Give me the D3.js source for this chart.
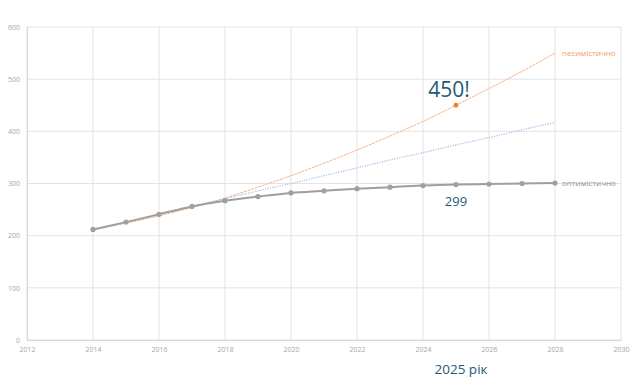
<!DOCTYPE html>
<html>
<head>
<meta charset="utf-8">
<script src="https://cdn.jsdelivr.net/npm/d3@7/dist/d3.min.js"></script>
<style>
  body{margin:0;background:#fff;}
  svg text{font-family:"Open Sans","Noto Sans",sans-serif;}
</style>
</head>
<body>
<svg id="chart" width="640" height="389"></svg>
<script>
'use strict';

var xTicks=[2012,2014,2016,2018,2020,2022,2024,2026,2028,2030];
var yTicks=[0,100,200,300,400,500,600];

var years=[2014,2015,2016,2017,2018,2019,2020,2021,2022,2023,2024,2025,2026,2027,2028];
var optimistic=[212,226,241,256,267,275,282,286,290,293,296,298,299,300,301];
var pessimistic=[211,224,238,254,272,293,315,339,364,391,419,450,482,515,550];
var trendYears=[2017,2018,2019,2020,2021,2022,2023,2024,2025,2026,2027,2028];
var trend=[256,271,286,300,315,330,345,359,374,388,403,417];

var svg=d3.select('#chart')
  , x=d3.scaleLinear().domain([2012,2030]).range([27,621])
  , y=d3.scaleLinear().domain([0,600]).range([340,27]);

// grid
svg.append('g').selectAll('line').data(xTicks).enter().append('line')
    .attr('x1',function(d){return x(d);}).attr('x2',function(d){return x(d);})
    .attr('y1',y(0)).attr('y2',y(600))
    .attr('stroke','#e3e3e3').attr('stroke-width',1);
svg.append('g').selectAll('line').data(yTicks).enter().append('line')
    .attr('x1',x(2012)).attr('x2',x(2030))
    .attr('y1',function(d){return y(d);}).attr('y2',function(d){return y(d);})
    .attr('stroke','#e3e3e3').attr('stroke-width',1);

// axes
var xAxis=svg.append('g').attr('transform','translate(0,'+y(0)+')')
    .call(d3.axisBottom(x).tickValues(xTicks).tickFormat(d3.format('d')).tickSize(0).tickPadding(7));
var yAxis=svg.append('g').attr('transform','translate('+x(2012)+',0)')
    .call(d3.axisLeft(y).tickValues(yTicks).tickSize(0).tickPadding(7));
[xAxis,yAxis].forEach(function(a){
    a.select('.domain').attr('stroke','#d6d6d6');
    a.selectAll('text').attr('fill','#a6a6a6').style('font-size','7px');
});

// series
var line=d3.line().x(function(d){return x(d[0]);}).y(function(d){return y(d[1]);}).curve(d3.curveMonotoneX);

svg.append('path')
    .datum(d3.zip(years,pessimistic))
    .attr('d',line)
    .attr('fill','none').attr('stroke','#f9b384').attr('stroke-width',1)
    .attr('stroke-dasharray','3,0.8');

svg.append('path')
    .datum(d3.zip(trendYears,trend))
    .attr('d',line)
    .attr('fill','none').attr('stroke','#9dc0e8').attr('stroke-width',1.2)
    .attr('stroke-dasharray','1.2,1.3');

svg.append('path')
    .datum(d3.zip(years,optimistic))
    .attr('d',line)
    .attr('fill','none').attr('stroke','#9e9e9e').attr('stroke-width',2);

svg.append('g').selectAll('circle').data(d3.zip(years,optimistic)).enter().append('circle')
    .attr('cx',function(d){return x(d[0]);})
    .attr('cy',function(d){return y(d[1]);})
    .attr('r',2.6)
    .attr('fill','#a0a0a0');

svg.append('circle')
    .attr('cx',x(2025)).attr('cy',y(pessimistic[years.indexOf(2025)]))
    .attr('r',2.4).attr('fill','#f07f2c');

// labels
svg.append('text').attr('x',x(2028)+7).attr('y',y(550)+3)
    .attr('fill','#f59a5e').style('font-size','8px').text('песимістично');
svg.append('text').attr('x',x(2028)+7).attr('y',y(301)+3)
    .attr('fill','#8f8f8f').style('font-size','8px').text('оптимістично');

svg.append('text').attr('x',449).attr('y',97).attr('text-anchor','middle')
    .attr('fill','#1f5a78').style('font-size','21px').text('450!');
svg.append('text').attr('x',x(2025)).attr('y',205.5).attr('text-anchor','middle')
    .attr('fill','#1f5a78').style('font-size','13px').text('299');
svg.append('text').attr('x',461).attr('y',373.5).attr('text-anchor','middle')
    .attr('fill','#1f5a78').style('font-size','13.5px').text('2025 рік');
</script>
</body>
</html>
